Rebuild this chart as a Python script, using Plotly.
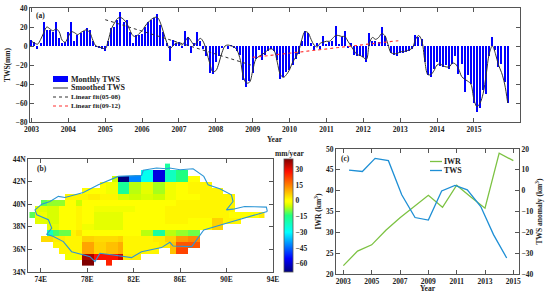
import plotly.graph_objects as go

W, H = 550, 295
FONT = "Liberation Serif"
FRAME = "#555555"
TEXT = "#222222"

# ---------- panel (a) ----------
month_index = list(range(156))
monthly_tws = [
    6, 4, -3, 3, 25, 17, 17, 15, 25, 8, 3, 4,
    15, 25, 5, 12, 14, 16, 19, 17, 5, -1, -2, -3,
    -5, 5, 19, 20, 27, 36, 25, 27, 15, 3, 12, 12,
    13, 20, 25, 27, 30, 34, 22, 15, 3, -16, 6, 3,
    4, -2, 16, 10, -7, 3, 15, 5, -3, -11, -28, -29,
    -17, -10, -2, 0, -3, 1, -2, -5, -9, -36, -43, -37,
    -28, -14, -4, -15, -9, -5, -3, -5, -15, -35, -33, -27,
    -25, -20, -14, -8, 5, 16, 14, 3, -4, 3, -3, 11,
    2, 4, 5, 21, 2, 9, 16, -2, 3, -9, -10, -11,
    -12, -17, 14, 5, 5, 4, 20, 11, 1, -7, -9, -10,
    -7, -7, -6, -5, -3, 12, 10, 7, -17, -31, -33, -24,
    -17, -21, -22, -20, -24, -19, -11, -29, -19, -48, -30, -40,
    -60, -69, -65, -46, -51, -10, 10, -4, -22, -19, -38, -60,
]
smoothed_tws = [
    5, 3, 2, 7, 14, 20, 18, 16, 18, 15, 6, 4,
    10, 15, 14, 12, 14, 16, 17, 14, 6, 0, -1, -2,
    -3, 6, 18, 24, 29, 30, 28, 24, 17, 11, 10, 13,
    16, 21, 25, 28, 30, 30, 24, 14, 4, -3, 0, 3,
    3, 1, 5, 9, 5, 1, 5, 8, 4, -6, -18, -27,
    -26, -18, -7, 0, 1, 0, -1, -5, -15, -33, -39, -38,
    -26, -14, -11, -9, -7, -4, -3, -5, -17, -30, -33, -30,
    -25, -17, -12, -5, 7, 15, 14, 7, 1, -1, 3, 4,
    5, 5, 8, 11, 11, 10, 10, 5, 0, -5, -9, -10,
    -12, -14, 3, 9, 7, 9, 13, 11, 2, -7, -8, -8,
    -6, -6, -5, -4, -2, 7, 11, 6, -15, -30, -30, -26,
    -20, -19, -21, -22, -22, -18, -19, -24, -32, -35, -37, -40,
    -56, -64, -60, -50, -30, -8, 0, -8, -20, -28, -40, -60,
]
fit1_x = [2005.0, 2008.95]
fit1_y = [27.7, -20.0]
fit2_x = [2009.0, 2012.95]
fit2_y = [-12.0, 5.6]
years_a = list(range(2003, 2016))
decimal_year = [2003 + m / 12 for m in month_index]

# ---------- panel (b) ----------
# each row runs west to east from column 0; None = outside the basin
_ = None
trend_rows_top_down = [
    [_]*23 + [-18] + [_]*16,
    [_]*19 + [-28, -28, -58, -58, -22, -22, -14, -14] + [_]*13,
    [_]*14 + [-5, -68, -68, -42, -42, -28, -28, -58, -58, -22, -22, -14, -14, 1, 1] + [_]*11,
    [_]*12 + [-1, -2, -2, -17, -17, -6, -6, -3, -3, -7, -7, -2, -2, 0, 0, 2, 2, 2, 2] + [_]*9,
    [_]*9 + [1, 0, 0, -1, -2, -2, -17, -17, -6, -6, -3, -3, -7, -7, -2, -2, 0, 0, 2, 2, 2, 2, 2, 2] + [_]*7,
    [_]*6 + [2, 2, 2, 2, 3, 3, 2, 2, 2, -4, -4, -5, -5, -4, -4, -5, -5, -2, -2, 0, 0, 1, 1, 2, 2, 2, 2, 2, 2] + [_]*5,
    [_]*2 + [-11, -8, -8, -8, 0, 1, -5, 0, 0, 0, 0, 0, 0, 0, -1, -1, 0, 0, 0, 0, 0, 1, 1, 2, 2, 2, 2, 2, 2, 2, 2, 2, 2] + [_]*5,
    [_] + [-3, -3, -4, -4, 1, 1, 1, 2, -1, -1, -2, -2, -2, -2, -2, -2, -2, 0, 0, 0, 0, 0, 2, 2, 2, 2, 2, 2, 2, 2, 2, 2, 2, 2] + [_]*5,
    [-11, -2, -2, -4, -4, 1, 1, 1, 2, -1, -1, -3, -3, -3, -3, -3, 0, 0, 0, 0, 0, 0, 0, 2, 2, 2, 2, 2, 2, 2, 2, 2, 2, 2, 1, 1, 1, 1, 1, 3],
    [_] + [-3, -3, -4, -4, 1, 1, 1, 2, -1, -1, -3, -3, -3, -3, -3, 0, 0, 0, 0, 0, 0, 0, 2, 2, 2, 2, 0, 0, 0, 0, 6, 6, 2, 2, 2] + [_]*4,
    [_]*3 + [-3, -3, 1, 1, 1, 2, -2, -2, -3, -3, -3, -3, -3, 0, 0, 0, 0, 0, 0, 0, 1, 1, 1, 1, -1, -1, -1, 1, 6, 6] + [_]*7,
    [_]*3 + [-22, -12, -10, -10, 2, 4, 0, 0, 0, 0, 0, 0, 0, 0, 0, 0, -6, -6, -18, -18, -6, -6, -8, -8, -10, -10] + [_]*11,
    [_]*2 + [5, 5, 3, 3, 2, 2, 2, 6, 6, 5, 5, 5, 5, 6, 2, 2, 2, 2, 2, 3, 3, 6, 6, 12, 12, 14, 14] + [_]*11,
    [_]*4 + [2, 2, 2, 2, 2, 11, 11, 6, 6, 8, 8, 10, 2, 2, 2, 2, 2, 2, 3, 3, 8, 20, 20, 20, 20] + [_]*11,
    [_]*5 + [2, 2, 2, 2, 11, 11, 6, 6, 8, 8, 10, 2, 2, 2, 2, 2, 2, _, _, 8, 22, 22] + [_]*13,
    [_]*6 + [-2, -2, 2, 36, 36, 28, 28, 28, 28, 33, 3, 3, 3] + [_]*21,
    [_]*9 + [40, 40, _, _, 26] + [_]*26,
]
lon_edges_start, lon_step = 73.03, 0.506
lat_edges_start, lat_step = 34.53, 0.533
lon_centres = [lon_edges_start + lon_step * (i + 0.5) for i in range(40)]
lat_centres = [lat_edges_start + lat_step * (i + 0.5) for i in range(17)]
trend_rows = trend_rows_top_down[::-1]

basin_lon = [93.51, 93.43, 92.42, 91.56, 90.56, 89.99, 90.56, 90.42, 89.42, 88.41, 88.04, 87.12, 86.0, 85.1,
             84.83, 83.97, 82.83, 82.68, 80.68, 80.1, 78.96, 77.67, 76.09, 75.52, 74.8, 74.09, 73.51, 73.66,
             74.66, 74.95, 74.52, 75.09, 75.95, 76.66, 78.24, 78.67, 79.1, 80.25, 81.82, 82.68, 84.4, 85.12,
             85.4, 87.0, 87.7, 88.04, 89.99, 93.51]
basin_lat = [39.36, 39.74, 39.77, 39.80, 39.56, 39.50, 40.24, 40.83, 41.37, 41.72, 42.46, 43.14, 43.05, 43.2,
             43.14, 43.2, 43.0, 42.55, 42.46, 42.22, 41.72, 41.04, 40.6, 40.69, 40.24, 40.0, 39.5, 39.06,
             38.62, 37.88, 37.34, 37.14, 36.69, 35.8, 35.36, 34.92, 35.66, 35.51, 35.27, 35.8, 36.16, 36.63,
             36.3, 36.25, 37.28, 37.73, 38.32, 39.36]
lon_ticks = [74, 78, 82, 86, 90, 94]
lat_ticks = [34, 36, 38, 40, 42, 44]
bar_ticks = [30, 15, 0, -15, -30, -45, -60]

# ---------- panel (c) ----------
iwr_years = list(range(2003, 2016))
iwr_values = [22, 25.5, 27, 30.5, 33.5, 36.3, 38.9, 36, 41.3, 38.5, 35.8, 49, 47.2]
tws_years = [2003.4, 2004.34, 2005.24, 2006.18, 2007.12, 2008.06, 2009.0, 2009.94, 2010.88, 2011.75, 2012.7, 2013.6, 2014.53]
tws_values = [9.9, 9.2, 15.5, 14.4, -2, -12.9, -14.1, -0.1, 2.5, 0.4, -7.6, -21.1, -32.3]


def dom_x(a, b):
    return [a / W, b / W]


def dom_y(top, bottom):
    return [1 - bottom / H, 1 - top / H]


def font(size=7.5, color=TEXT):
    return dict(family=FONT, size=size, color=color, weight="bold")


def axis(**kw):
    base = dict(showgrid=False, zeroline=False, showline=True, linecolor=FRAME, linewidth=1.2,
                ticks="inside", ticklen=4, tickwidth=1, tickcolor=FRAME, mirror="ticks",
                tickfont=font(7.5), automargin=False)
    base.update(kw)
    return base


fig = go.Figure()
# (a)
fig.add_bar(x=decimal_year, y=monthly_tws, marker=dict(color="#0000ff", line_width=0), width=0.034,
            xaxis="x", yaxis="y", name="Monthly TWS")
fig.add_scatter(x=decimal_year, y=smoothed_tws, mode="lines", line=dict(color="#333333", width=1, shape="spline"),
                xaxis="x", yaxis="y", name="Smoothed TWS")
fig.add_scatter(x=fit1_x, y=fit1_y, mode="lines", line=dict(color="#333333", width=1, dash="3px,3px"),
                xaxis="x", yaxis="y", name="Linear fit(05-08)")
fig.add_scatter(x=fit2_x, y=fit2_y, mode="lines", line=dict(color="#ff3030", width=1.1, dash="3px,3px"),
                xaxis="x", yaxis="y", name="Linear fit(09-12)")
# (b)
fig.add_heatmap(
    x=lon_centres, y=lat_centres, z=trend_rows, zmin=-68, zmax=40, xaxis="x2", yaxis="y2",
    xgap=0, ygap=0, hoverongaps=False,
    colorscale=[
        [0.0, "#00007f"], [(68 - 55) / 108, "#0000ff"], [(68 - 30) / 108, "#00ffff"],
        [(68 - 14) / 108, "#20ff80"], [(68 - 5) / 108, "#ccff00"], [(68 - 1) / 108, "#ffff00"], [(68 + 1) / 108, "#ffff00"],
        [(68 + 15) / 108, "#ff8000"], [(68 + 28) / 108, "#ff1000"], [1.0, "#800000"],
    ],
    colorbar=dict(
        thicknessmode="pixels", thickness=9, lenmode="pixels", len=113,
        x=284 / W, xanchor="left", y=1 - 159 / H, yanchor="top", xpad=0, ypad=0,
        outlinewidth=0.8, outlinecolor=FRAME, tickvals=bar_ticks, ticks="", tickfont=font(7.5),
    ),
)
fig.add_scatter(x=basin_lon, y=basin_lat, mode="lines", line=dict(color="#2c96d6", width=1.1),
                xaxis="x2", yaxis="y2", name="Basin")
# (c)
fig.add_scatter(x=iwr_years, y=iwr_values, mode="lines", line=dict(color="#7cc242", width=1.3),
                xaxis="x3", yaxis="y3", name="IWR")
fig.add_scatter(x=tws_years, y=tws_values, mode="lines", line=dict(color="#1e8fd5", width=1.3),
                xaxis="x3", yaxis="y4", name="TWS")

annotations = []
shapes = []


def label(x, y, text, size=8, anchor="left"):
    annotations.append(dict(xref="paper", yref="paper", x=x / W, y=1 - y / H, text=text, showarrow=False,
                            xanchor=anchor, yanchor="middle", font=font(size), borderpad=0))


def swatch(x0, x1, y, color, width, dash="solid"):
    shapes.append(dict(type="line", xref="paper", yref="paper", x0=x0 / W, x1=x1 / W, y0=1 - y / H, y1=1 - y / H,
                       line=dict(color=color, width=width, dash=dash)))


label(35, 15.5, "(a)", 7.5)
label(36, 168, "(b)", 7.5)
label(340, 158, "(c)", 7.5)
label(275, 139, "Year", 7.5, "center")
label(428, 288, "Year", 7.5, "center")
label(289, 153, "mm/year", 7.5, "center")
label(70, 79, "Monthly TWS", 8)
label(70, 88, "Smoothed TWS", 8)
label(70, 97, "Linear fit(05-08)", 7)
label(70, 106, "Linear fit(09-12)", 7)
swatch(53, 68, 79, "#0000ff", 6)
swatch(53, 68, 88, "#555555", 1.2)
swatch(53, 68, 97, "#333333", 1.2, "3px,3px")
swatch(53, 68, 106, "#ff3030", 1.2, "3px,3px")
label(443, 161.5, "IWR", 8)
label(443, 170.5, "TWS", 8)
swatch(430, 442, 161.5, "#7cc242", 1.3)
swatch(430, 442, 170.5, "#1e8fd5", 1.3)

fig.update_layout(
    width=W, height=H, margin=dict(l=0, r=0, t=0, b=0), autosize=False, showlegend=False,
    paper_bgcolor="white", plot_bgcolor="white", barmode="overlay", bargap=0,
    font=dict(family=FONT, size=8, color=TEXT),
    annotations=annotations, shapes=shapes,
    xaxis=axis(domain=dom_x(30, 520), range=[2002.96, 2016.25], tickvals=years_a, anchor="y"),
    yaxis=axis(domain=dom_y(8, 122), range=[-80, 40], dtick=20, anchor="x",
               title=dict(text="TWS(mm)", font=font(7.5), standoff=3)),
    xaxis2=axis(domain=dom_x(28.3, 273), range=[72.93, 94], tickvals=lon_ticks,
                ticktext=[f"{v}E" for v in lon_ticks], anchor="y2"),
    yaxis2=axis(domain=dom_y(159, 272), range=[34, 44], tickvals=lat_ticks,
                ticktext=[f"{v}N" for v in lat_ticks], anchor="x2"),
    xaxis3=axis(domain=dom_x(336, 519), range=[2002.48, 2015.4], tickvals=list(range(2003, 2016, 2)), anchor="y3"),
    yaxis3=axis(domain=dom_y(149, 274), range=[20, 50], dtick=5, anchor="x3",
                title=dict(text="IWR (km<sup>3</sup>)", font=font(7.5), standoff=3)),
    yaxis4=axis(domain=dom_y(149, 274), range=[-40, 20], dtick=10, anchor="x3", overlaying="y3", side="right",
                mirror=False, title=dict(text="TWS anomaly (km<sup>3</sup>)", font=font(7.5), standoff=3)),
)

fig.write_html("out.html", config=dict(displayModeBar=False),
               post_script="document.body.style.margin='0';document.body.style.overflow='hidden';")
